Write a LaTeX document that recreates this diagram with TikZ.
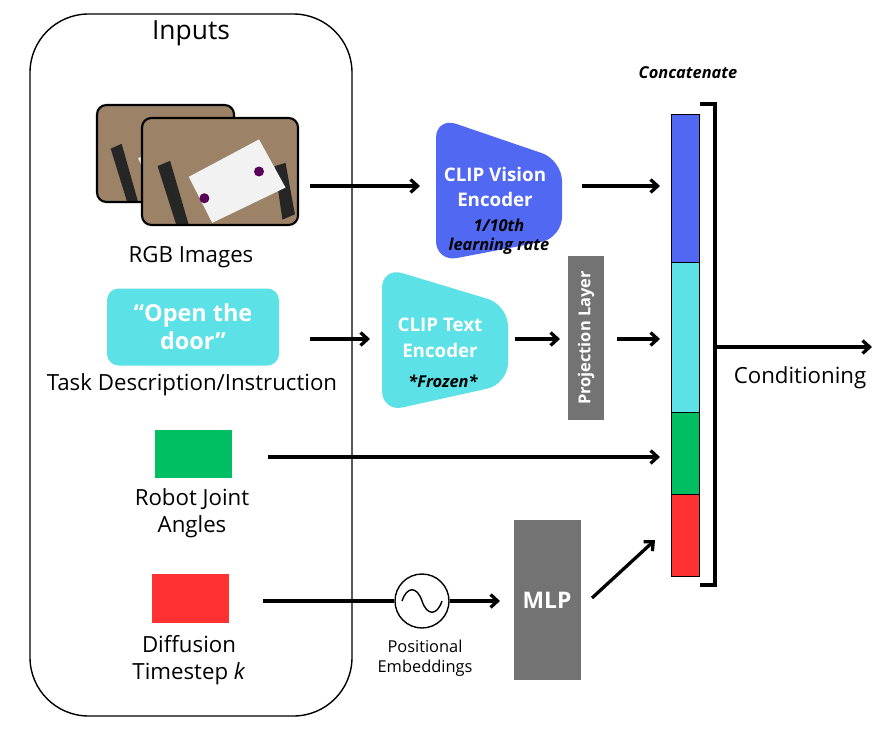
\documentclass[tikz,border=0pt]{standalone}
\usepackage{fontspec}
\setmainfont{Open Sans}
\begin{document}
\begin{tikzpicture}[x=0.03cm,y=-0.03cm,
  arr/.style={line width=2.8pt,-{Straight Barb[length=6pt,width=11pt]}},
  lbl/.style={font=\fontsize{19}{23}\selectfont,align=center},
  enc/.style={font=\bfseries\fontsize{16}{22}\selectfont,text=white,align=center},
  sm/.style={font=\bfseries\itshape\fontsize{14}{16}\selectfont,align=center}]
\usetikzlibrary{arrows.meta}
\definecolor{cblue}{HTML}{5168F2}
\definecolor{ccyan}{HTML}{5CE1E6}
\definecolor{cgreen}{HTML}{00BF63}
\definecolor{cred}{HTML}{FF3131}
\definecolor{cgray}{HTML}{737373}
\definecolor{wood}{HTML}{9C8368}
\useasboundingbox (0,0) rectangle (878,737);
% inputs box
\draw[line width=1.2pt,rounded corners=50] (30,14) rectangle (352,716);
\node[font=\fontsize{22.5}{26}\selectfont] (inp) at (191,33) {Inputs};
% images
\foreach \a/\b/\c/\d in {97/105/234/202,142/118/298/225}{
  \begin{scope}
  \clip[rounded corners=8] (\a,\b) rectangle (\c,\d);
  \fill[wood] (\a,\b) rectangle (\c,\d);
  \fill[black!85] ({\a+0.1*(\c-\a)},{\b+0.45*(\d-\b)}) -- ({\a+0.18*(\c-\a)},{\b+0.4*(\d-\b)}) -- ({\a+0.3*(\c-\a)},{\d}) -- ({\a+0.22*(\c-\a)},{\d}) -- cycle;
  \fill[black!85] ({\a+0.85*(\c-\a)},{\b+0.45*(\d-\b)}) -- ({\a+0.92*(\c-\a)},{\b+0.42*(\d-\b)}) -- ({\a+0.98*(\c-\a)},{\b+0.9*(\d-\b)}) -- ({\a+0.9*(\c-\a)},{\b+0.95*(\d-\b)}) -- cycle;
  \fill[gray!10] ({\a+0.3*(\c-\a)},{\b+0.55*(\d-\b)}) -- ({\a+0.75*(\c-\a)},{\b+0.2*(\d-\b)}) -- ({\a+0.92*(\c-\a)},{\b+0.65*(\d-\b)}) -- ({\a+0.45*(\c-\a)},{\b+0.98*(\d-\b)}) -- cycle;
  \fill[violet!70!black] ({\a+0.4*(\c-\a)},{\b+0.75*(\d-\b)}) circle[radius=5];
  \fill[violet!70!black] ({\a+0.75*(\c-\a)},{\b+0.5*(\d-\b)}) circle[radius=5];
  \end{scope}
  \draw[line width=1.8pt,rounded corners=8] (\a,\b) rectangle (\c,\d);
}
\coordinate (img) at (310,186);
\node[lbl] (rgb) at (191,257) {RGB Images};
% text box
\node[fill=ccyan,rounded corners=10,minimum width=172*0.03cm,minimum height=77*0.03cm,
  text=white,font=\bfseries\fontsize{20}{24}\selectfont,align=center] (txt) at (193,327) {“Open the\\door”};
\coordinate (txto) at (310,339);
\node[lbl] (tdi) at (192,385) {Task Description/Instruction};
% joints
\node[fill=cgreen,minimum width=77*0.03cm,minimum height=48*0.03cm,inner sep=0] (jnt) at (193,454) {};
\node[lbl] (jl) at (192,513) {Robot Joint\\Angles};
\coordinate (jnto) at (268,457);
% timestep
\node[fill=cred,minimum width=77*0.03cm,minimum height=49*0.03cm,inner sep=0] (ts) at (190,598) {};
\node[lbl] (tl) at (189,660) {Diffusion\\Timestep \textit{k}};
\coordinate (tso) at (263,601);
% encoders
\fill[cblue,rounded corners=18] (436,117) -- (562,160) -- (562,238) -- (436,262) -- cycle;
\node[enc] (ve) at (495,187) {CLIP Vision\\Encoder};
\node[sm] (vlr) at (499,237) {1/10th\\learning rate};
\coordinate (vein) at (420,186);
\coordinate (veo) at (582,186);
\fill[ccyan,rounded corners=18] (382,267) -- (508,305) -- (508,384) -- (382,412) -- cycle;
\node[enc] (te) at (440,338) {CLIP Text\\Encoder};
\node[sm] (fr) at (443,381) {*Frozen*};
\coordinate (tein) at (370,339);
\coordinate (teo) at (515,339);
% projection
\node[fill=cgray,minimum width=36*0.03cm,minimum height=164*0.03cm,inner sep=0] (proj) at (586,338) {};
\node[rotate=90,text=white,font=\bfseries\fontsize{14}{16}\selectfont] (projl) at (586,338) {Projection Layer};
\coordinate (projin) at (560,339);
\coordinate (projo) at (617,339);
% stack
\node[draw,line width=0.8pt,fill=cblue,minimum width=28*0.03cm,minimum height=148*0.03cm,inner sep=0] (sb) at (685,188) {};
\node[draw,line width=0.8pt,fill=ccyan,minimum width=28*0.03cm,minimum height=150*0.03cm,inner sep=0] (sc) at (685,337) {};
\node[draw,line width=0.8pt,fill=cgreen,minimum width=28*0.03cm,minimum height=82*0.03cm,inner sep=0] (sg) at (685,453) {};
\node[draw,line width=0.8pt,fill=cred,minimum width=28*0.03cm,minimum height=82*0.03cm,inner sep=0] (sr) at (685,535) {};
\draw[line width=3pt] (700,104) -- (715,104) -- (715,585) -- (700,585);
\node[sm] (cc) at (688,73) {Concatenate};
\coordinate (bro) at (715,347);
\coordinate (cond) at (872,347);
\node[lbl] (condl) at (800,378) {Conditioning};
% positional + MLP
\node[draw,circle,line width=1.2pt,minimum size=54*0.03cm] (pe) at (422,601) {};
\draw[line width=1.2pt] (402,601) .. controls (407,586) and (417,586) .. (422,601) .. controls (427,616) and (437,616) .. (442,601);
\node[font=\fontsize{14}{17}\selectfont,align=center] (pel) at (425,658) {Positional\\Embeddings};
\node[fill=cgray,minimum width=67*0.03cm,minimum height=160*0.03cm,inner sep=0,
  text=white,font=\bfseries\fontsize{19.5}{22}\selectfont] (mlp) at (547,600) {MLP};
% arrows
\draw[arr] (img) -- (vein);
\draw[arr] (veo) -- (660,186);
\draw[arr] (txto) -- (tein);
\draw[arr] (teo) -- (projin);
\draw[arr] (projo) -- (660,339);
\draw[arr] (jnto) -- (660,457);
\draw[line width=2.8pt] (tso) -- (pe.west);
\draw[arr] (pe.east) -- (500,601);
\draw[arr] (592,598) -- (655,540);
\draw[arr] (bro) -- (cond);
\end{tikzpicture}
\end{document}
